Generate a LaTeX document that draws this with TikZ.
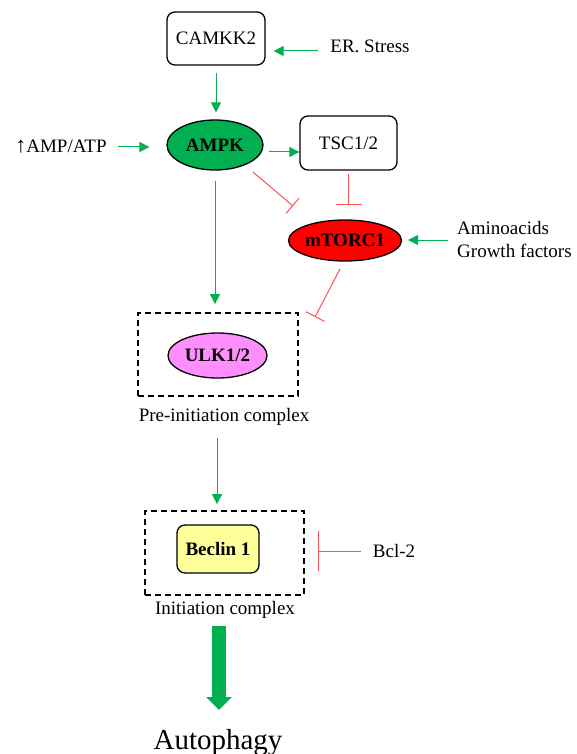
\documentclass[tikz,border=0pt]{standalone}
\usepackage{fontspec}
\setmainfont{Liberation Serif}
\usetikzlibrary{arrows.meta,shapes.geometric}
\definecolor{pgreen}{HTML}{00B050}
\definecolor{pred}{HTML}{FF5050}
\definecolor{mred}{HTML}{FF0000}
\definecolor{ulkpink}{HTML}{FF8FFF}
\definecolor{beclin}{HTML}{FFFF99}
\tikzset{
  every node/.style={font=\fontsize{19}{23}\selectfont, inner sep=0pt},
  rbox/.style={draw=black, line width=1.3pt, rounded corners=8pt, fill=white},
  ell/.style={ellipse, draw=black, line width=1.3pt, font=\fontsize{19}{23}\selectfont\bfseries},
  dbox/.style={draw=black, line width=1.8pt, dash pattern=on 6pt off 4pt},
  garrow/.style={draw=pgreen, line width=1pt, -{Triangle[length=10pt,width=10pt]}},
  inhib/.style={draw=pred, line width=1pt, -{Bar[width=#1,line width=1pt]}},
  bigarrow/.style={draw=pgreen, line width=14pt, -{Triangle[length=13pt,width=25pt]}}
}
\begin{document}
\begin{tikzpicture}[x=1pt,y=-1pt]
\useasboundingbox (0,0) rectangle (576,754);
% nodes
\node[rbox, minimum width=98pt, minimum height=53pt] (camkk) at (216,38.5) {CAMKK2};
\node (er) at (370,46) {ER. Stress};
\node[ell, fill=pgreen, minimum width=96pt, minimum height=50pt] (ampk) at (215,145) {AMPK};
\node (amp) at (61,147) {{\fontsize{22}{23}\selectfont ↑}AMP/ATP};
\node[rbox, minimum width=97pt, minimum height=54pt] (tsc) at (348.5,143) {TSC1/2};
\node[ell, fill=mred, minimum width=104pt, minimum height=41pt] (mtor) at (345,240.5) {mTORC1};
\node[align=left, anchor=west] (amino) at (457,240) {Aminoacids\\Growth factors};
\node[dbox, minimum width=160pt, minimum height=83pt] (pre) at (218,354.5) {};
\node[ell, fill=ulkpink, minimum width=99pt, minimum height=45pt] (ulk) at (217.5,355.5) {ULK1/2};
\node (prelab) at (224,417) {Pre-initiation complex};
\node[dbox, minimum width=159pt, minimum height=84pt] (init) at (224.5,553) {};
\node[rbox, fill=beclin, minimum width=82pt, minimum height=48pt, font=\fontsize{19}{23}\selectfont\bfseries] (bec) at (218,549) {Beclin 1};
\node (bcl) at (394,551) {Bcl-2};
\node (initlab) at (225,610) {Initiation complex};
\node[anchor=base, font=\fontsize{29}{32}\selectfont] (auto) at (218,749) {Autophagy};
% connectors
\draw[garrow] ([yshift=-5pt]er.west) ++(-12,0) coordinate (erS) -- (erS -| camkk.east) [shorten >=8pt];
\draw[garrow, shorten <=7pt, shorten >=7pt] (camkk.south) -- (camkk.south |- ampk.north);
\draw[garrow, shorten <=11pt, shorten >=17pt] (amp.east) -- (amp.east -| ampk.west);
\draw[garrow] ([xshift=5pt,yshift=-7pt]ampk.east) -- ([yshift=-9pt]tsc.west);
\draw[garrow, shorten <=10pt, shorten >=8pt] (ampk.south) -- (ampk.south |- pre.north);
\draw[inhib=20pt] (253,172) coordinate (ai) -- (293,206) coordinate (am);
\draw[inhib=26pt, shorten <=3pt] (tsc.south) -- (tsc.south |- 0,205) coordinate (tm);
\draw[inhib=21pt] (340,269) coordinate (mi) -- (315,317) coordinate (mu);
\draw[garrow, shorten >=6pt] ([xshift=-9pt]amino.west) -- (amino.west -| mtor.east);
\draw[garrow, shorten <=12pt, shorten >=6pt] ([xshift=-7pt]prelab.south) -- ([xshift=-7pt]prelab.south |- init.north);
\draw[inhib=40pt] ([xshift=-12pt]bcl.west) -- ([xshift=-55pt]bcl.west);
\draw[bigarrow] (219,626) coordinate (bs) -- (219,710) coordinate (be);
\end{tikzpicture}
\end{document}
